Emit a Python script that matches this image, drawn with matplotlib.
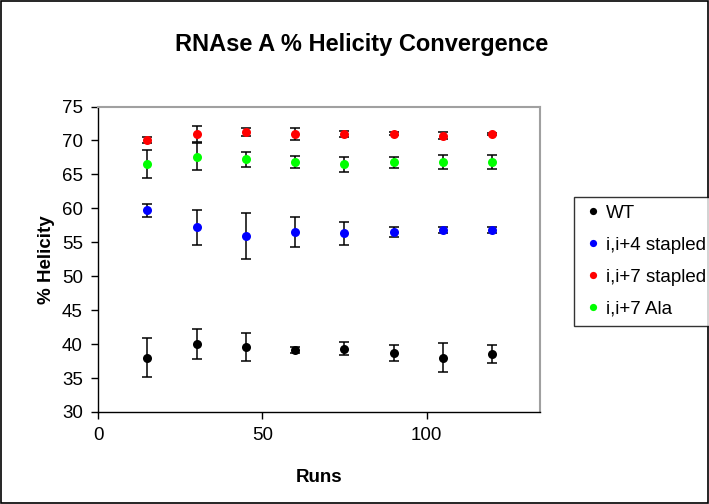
#! /usr/bin/env python3
# coding: utf-8

"""
RNAse A % Helicity Convergence - nuage de points avec barres d'erreur
"""

import matplotlib
matplotlib.use('Agg')
import matplotlib.pyplot as plt
from matplotlib.patches import Rectangle

plt.rcParams['font.family'] = ['Liberation Sans', 'DejaVu Sans']

# données
runs = [15, 30, 45, 60, 75, 90, 105, 120]

wt = [38.0, 40.0, 39.55, 39.1, 39.35, 38.7, 38.0, 38.5]
wt_err = [2.9, 2.2, 2.1, 0.45, 1.0, 1.15, 2.1, 1.3]

i4 = [59.7, 57.2, 55.9, 56.5, 56.3, 56.55, 56.8, 56.8]
i4_err = [1.0, 2.6, 3.4, 2.2, 1.65, 0.7, 0.45, 0.5]

i7 = [70.05, 71.0, 71.2, 71.0, 71.0, 71.0, 70.7, 71.0]
i7_err = [0.4, 1.2, 0.6, 0.9, 0.45, 0.2, 0.5, 0.15]

ala = [66.5, 67.6, 67.2, 66.8, 66.5, 66.8, 66.8, 66.8]
ala_err = [2.1, 2.0, 1.1, 0.9, 1.1, 0.8, 1.0, 1.0]

series = [
    ("WT", wt, wt_err, "black"),
    ("i,i+4 stapled", i4, i4_err, "#0000ff"),
    ("i,i+7 stapled", i7, i7_err, "#ff0000"),
    ("i,i+7 Ala", ala, ala_err, "#00ff00"),
]

W, H = 709, 504
fig = plt.figure(figsize=(W / 100, H / 100), dpi=100)
ax = fig.add_axes([98 / W, 1 - 412 / H, (540 - 98) / W, (412 - 106.5) / H])

for label, vals, errs, col in series:
    ax.errorbar(runs, vals, yerr=errs, fmt='none', ecolor='black',
                elinewidth=1.1, capsize=3.8, capthick=1.1, zorder=2)
    ax.plot(runs, vals, 'o', color=col, markersize=6.5, label=label,
            zorder=3, markeredgewidth=0)

ax.set_xlim(0, 134.5)
ax.set_ylim(30, 75)
ax.set_xticks([0, 50, 100])
ax.set_yticks(range(30, 80, 5))
ax.tick_params(direction='out', length=5, width=1, labelsize=13.5, pad=6)

for side in ['top', 'right']:
    ax.spines[side].set_color('#a0a0a0')
    ax.spines[side].set_linewidth(1.5)
for side in ['left', 'bottom']:
    ax.spines[side].set_color('black')
    ax.spines[side].set_linewidth(1)

ax.set_xlabel("Runs", fontsize=13.5, fontweight='bold', labelpad=18)
ax.set_ylabel("% Helicity", fontsize=13.5, fontweight='bold', labelpad=5)
fig.text(362 / W, 1 - 45 / H, "RNAse A % Helicity Convergence",
         fontsize=17, fontweight='bold', ha='center', va='center')

leg = fig.legend(loc='upper left', bbox_to_anchor=(574 / W, 1 - 197 / H),
                 fontsize=13.5, frameon=True, fancybox=False, borderpad=0.4,
                 handletextpad=0.1, handlelength=1.2, labelspacing=0.8,
                 markerscale=0.8, borderaxespad=0)
leg.get_frame().set_edgecolor('black')
leg.get_frame().set_linewidth(1)

# cadre de la figure
fig.patches.append(Rectangle((0.001, 0.001), 0.997, 0.997, transform=fig.transFigure,
                             fill=False, edgecolor='black', linewidth=1.2))

plt.savefig("out.png", dpi=100)
